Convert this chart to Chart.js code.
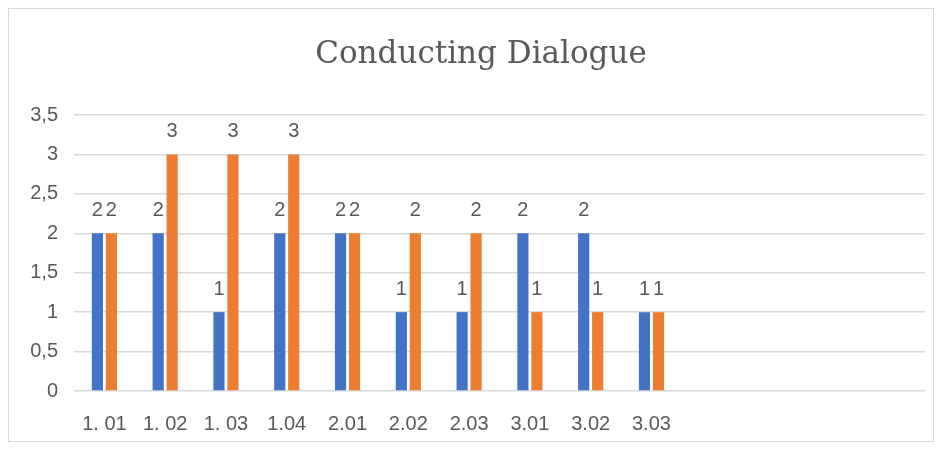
<!DOCTYPE html>
<html>
<head>
<meta charset="utf-8">
<script src="https://cdn.jsdelivr.net/npm/chart.js@4"></script>
<style>
  html, body { margin: 0; padding: 0; background: #fff; }
  #wrap { width: 942px; height: 450px; }
</style>
</head>
<body>
<div id="wrap"><canvas id="dialogueChart" width="942" height="450"></canvas></div>
<script>
// values
const chartTitle = 'Conducting Dialogue';
const categories = ['1. 01', '1. 02', '1. 03', '1.04', '2.01', '2.02', '2.03', '3.01', '3.02', '3.03', '', '', '', ''];
const seriesBlue = [2, 2, 1, 2, 2, 1, 1, 2, 2, 1, null, null, null, null];
const seriesOrange = [2, 3, 3, 3, 2, 2, 2, 1, 1, 1, null, null, null, null];
const yTicks = [0, 0.5, 1, 1.5, 2, 2.5, 3, 3.5];

const textGrey = '#595959';

// white background, light frame round the chart box and the title
const framePlugin = {
    id: 'frame',
    beforeDraw(chart) {
        const ctx = chart.ctx;
        ctx.save();
        ctx.fillStyle = '#fff';
        ctx.fillRect(0, 0, chart.width, chart.height);
        ctx.strokeStyle = '#d9d9d9';
        ctx.lineWidth = 1;
        ctx.strokeRect(8.5, 8.5, chart.width - 17, chart.height - 17);
        ctx.font = '31px "DejaVu Serif", serif';
        ctx.fillStyle = textGrey;
        ctx.textAlign = 'center';
        ctx.textBaseline = 'middle';
        ctx.fillText(chartTitle, 481, 55);
        ctx.restore();
    }
};

// value labels above each bar
const valueLabels = {
    id: 'valueLabels',
    afterDatasetsDraw(chart) {
        const ctx = chart.ctx;
        ctx.save();
        ctx.font = '20px "Liberation Sans", sans-serif';
        ctx.fillStyle = textGrey;
        ctx.textAlign = 'center';
        ctx.textBaseline = 'alphabetic';
        chart.data.datasets.forEach((ds, i) => {
            chart.getDatasetMeta(i).data.forEach((bar, j) => {
                const v = ds.data[j];
                if (v === null || v === undefined) return;
                ctx.fillText(String(v), bar.x, bar.y - 17);
            });
        });
        ctx.restore();
    }
};

const ctx = document.getElementById('dialogueChart').getContext('2d');
new Chart(ctx, {
    type: 'bar',
    data: {
        labels: categories,
        datasets: [
            {
                label: 'Series 1',
                data: seriesBlue,
                backgroundColor: '#4472C4',
                categoryPercentage: 0.46,
                barPercentage: 0.8
            },
            {
                label: 'Series 2',
                data: seriesOrange,
                backgroundColor: '#ED7D31',
                categoryPercentage: 0.46,
                barPercentage: 0.8
            }
        ]
    },
    options: {
        responsive: false,
        animation: false,
        layout: { padding: { left: 0, right: 17, top: 115, bottom: 0 } },
        plugins: {
            legend: { display: false },
            tooltip: { enabled: false },
            title: { display: false }
        },
        scales: {
            x: {
                grid: { display: false, drawTicks: false },
                border: { display: false },
                ticks: {
                    color: textGrey,
                    font: { family: '"Liberation Sans", sans-serif', size: 20 },
                    padding: 21,
                    maxRotation: 0,
                    autoSkip: false
                },
                afterFit(scale) { scale.height = 59; }
            },
            y: {
                min: 0,
                max: 3.5,
                afterBuildTicks(scale) { scale.ticks = yTicks.map(v => ({ value: v })); },
                grid: { color: '#d9d9d9', lineWidth: 1.5, drawTicks: false },
                border: { display: false },
                ticks: {
                    color: textGrey,
                    font: { family: '"Liberation Sans", sans-serif', size: 20 },
                    padding: 16,
                    callback: v => String(v).replace('.', ',')
                },
                afterFit(scale) { scale.width = 74; }
            }
        }
    },
    plugins: [framePlugin, valueLabels]
});
</script>
</body>
</html>
